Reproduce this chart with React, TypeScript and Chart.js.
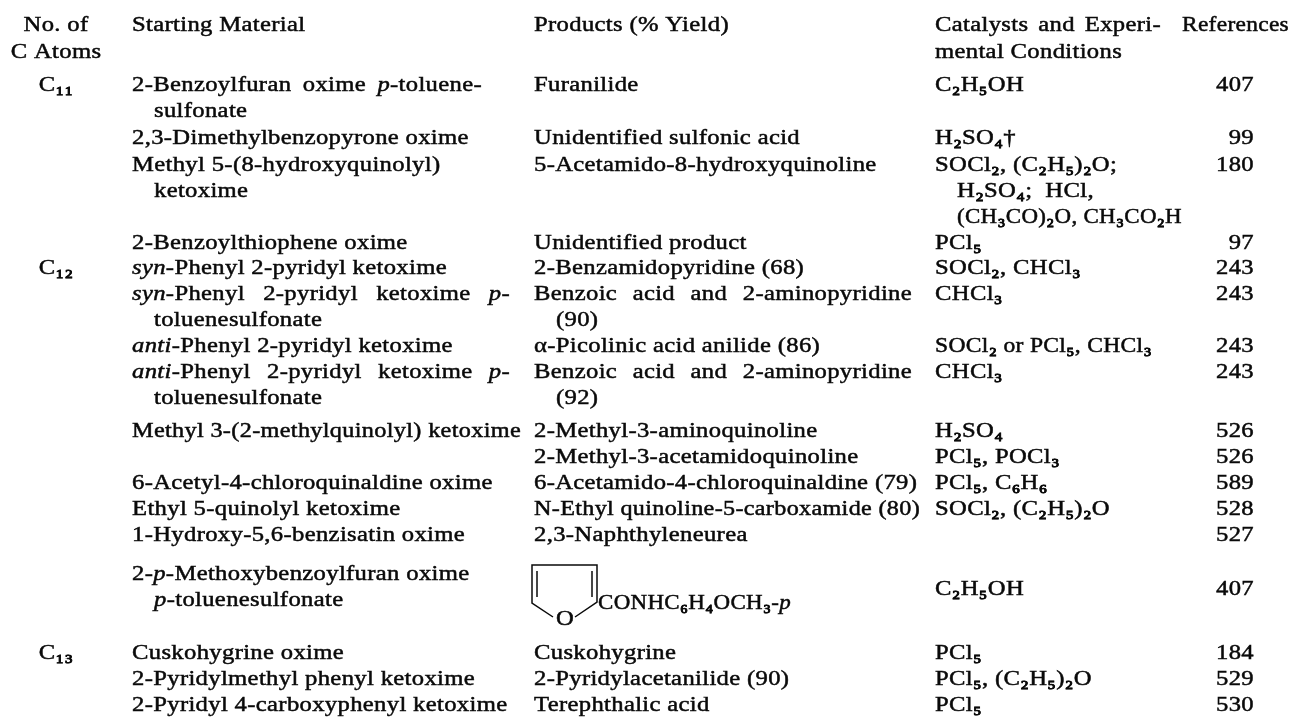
import React, { useEffect, useRef } from "react";
import { Chart, registerables } from "chart.js";

Chart.register(...registerables);

// Vertical position of every printed line, in the y axis' own units.
const lineY = [25, 52, 85, 111, 138, 165, 191, 217, 243, 268, 294, 320, 346, 372, 398, 431, 457, 483, 509, 535, 574, 589, 600, 653, 679, 705];

const carbonAtoms = ["No. of", "C Atoms", "C₁₁", "", "", "", "", "", "", "C₁₂", "", "", "", "", "", "", "", "", "", "", "", "", "", "C₁₃", "", ""];

const startingMaterial = [
  "Starting Material", "",
  "2-Benzoylfuran oxime *p*-toluene-", "  sulfonate",
  "2,3-Dimethylbenzopyrone oxime",
  "Methyl 5-(8-hydroxyquinolyl)", "  ketoxime", "",
  "2-Benzoylthiophene oxime",
  "*syn*-Phenyl 2-pyridyl ketoxime",
  "*syn*-Phenyl 2-pyridyl ketoxime *p*-", "  toluenesulfonate",
  "*anti*-Phenyl 2-pyridyl ketoxime",
  "*anti*-Phenyl 2-pyridyl ketoxime *p*-", "  toluenesulfonate",
  "Methyl 3-(2-methylquinolyl) ketoxime", "",
  "6-Acetyl-4-chloroquinaldine oxime",
  "Ethyl 5-quinolyl ketoxime",
  "1-Hydroxy-5,6-benzisatin oxime",
  "2-*p*-Methoxybenzoylfuran oxime", "", "  *p*-toluenesulfonate",
  "Cuskohygrine oxime",
  "2-Pyridylmethyl phenyl ketoxime",
  "2-Pyridyl 4-carboxyphenyl ketoxime",
];

const products = [
  "Products (% Yield)", "",
  "Furanilide", "",
  "Unidentified sulfonic acid",
  "5-Acetamido-8-hydroxyquinoline", "", "",
  "Unidentified product",
  "2-Benzamidopyridine (68)",
  "Benzoic acid and 2-aminopyridine", "  (90)",
  "α-Picolinic acid anilide (86)",
  "Benzoic acid and 2-aminopyridine", "  (92)",
  "2-Methyl-3-aminoquinoline",
  "2-Methyl-3-acetamidoquinoline",
  "6-Acetamido-4-chloroquinaldine (79)",
  "N-Ethyl quinoline-5-carboxamide (80)",
  "2,3-Naphthyleneurea",
  "", "", "",
  "Cuskohygrine",
  "2-Pyridylacetanilide (90)",
  "Terephthalic acid",
];

const catalysts = [
  "Catalysts and Experi-", "mental Conditions",
  "C₂H₅OH", "",
  "H₂SO₄†",
  "SOCl₂, (C₂H₅)₂O;", "  H₂SO₄;  HCl,", "  (CH₃CO)₂O, CH₃CO₂H",
  "PCl₅",
  "SOCl₂, CHCl₃",
  "CHCl₃", "",
  "SOCl₂ or PCl₅, CHCl₃",
  "CHCl₃", "",
  "H₂SO₄",
  "PCl₅, POCl₃",
  "PCl₅, C₆H₆",
  "SOCl₂, (C₂H₅)₂O",
  "",
  "", "C₂H₅OH", "",
  "PCl₅",
  "PCl₅, (C₂H₅)₂O",
  "PCl₅",
];

const references = [
  "References", "",
  "407", "", "99", "180", "", "", "97", "243", "243", "", "243", "243", "",
  "526", "526", "589", "528", "527", "", "407", "", "184", "529", "530",
];

// Printed widths of the lines that the typesetter stretched or squeezed.
const fittedWidths: Record<string, number> = {
  "2-Benzoylfuran oxime *p*-toluene-": 350,
  "*syn*-Phenyl 2-pyridyl ketoxime *p*-": 378,
  "*anti*-Phenyl 2-pyridyl ketoxime *p*-": 378,
  "Benzoic acid and 2-aminopyridine": 378,
  "Methyl 3-(2-methylquinolyl) ketoxime": 389,
  "N-Ethyl quinoline-5-carboxamide (80)": 386,
  "Catalysts and Experi-": 226,
  "SOCl₂ or PCl₅, CHCl₃": 217,
  "(CH₃CO)₂O, CH₃CO₂H": 225,
  "References": 107,
  "CONHC₆H₄OCH₃-*p*": 193,
};

// Furan ring outline (null breaks the pen): outer ring, then the two inner double-bond strokes.
const furanRingX = [553, 532, 532, 597, 597, 575, null, 537, 537, null, 592, 592];
const furanRingY = [617, 603, 565, 565, 602, 617, null, 571, 597, null, 571, 597];
const furanAtom = "O";
const furanAtomX = 565;
const furanAtomY = 619;
const furanLabel = "CONHC₆H₄OCH₃-*p*";
const furanLabelX = 598;
const furanLabelY = 603;

const FONT = '"Liberation Serif"';
const SIZE = 22;
const STRETCH = 1.12;
const INK = "#0a0a0a";
const columnX = [56, 132, 534, 935, 1254];
const headerRefX = 1182;
const INDENT = 22;
const SUBSCRIPTS = /[₀-₉]/;

function naturalWidth(ctx: CanvasRenderingContext2D, text: string) {
  return text.split("*").reduce((sum, part, i) => {
    ctx.font = `${i % 2 ? "italic " : ""}${SIZE}px ${FONT}`;
    return sum + ctx.measureText(part).width * STRETCH;
  }, 0);
}

function drawRich(ctx: CanvasRenderingContext2D, text: string, x: number, y: number) {
  let stretch = STRETCH;
  ctx.wordSpacing = "0px";
  const target = fittedWidths[text];
  if (target) {
    const natural = naturalWidth(ctx, text);
    const gaps = (text.match(/ /g) || []).length;
    if (gaps && target > natural) ctx.wordSpacing = `${(target - natural) / gaps / STRETCH}px`;
    else stretch = (STRETCH * target) / natural;
  }
  let cx = x;
  text.split("*").forEach((part, i) => {
    if (!part) return;
    ctx.font = `${i % 2 ? "italic " : ""}${SIZE}px ${FONT}`;
    ctx.save();
    ctx.translate(cx, y);
    ctx.scale(stretch, 1);
    ctx.fillText(part, 0, 0);
    ctx.lineWidth = 0.5;
    ctx.strokeText(part, 0, 0);
    // Chemical subscripts are printed in a heavier cut.
    ctx.lineWidth = 0.9;
    [...part].forEach((ch, k) => {
      if (SUBSCRIPTS.test(ch)) {
        const before = [...part].slice(0, k).join("");
        ctx.strokeText(ch, ctx.measureText(before).width, 0);
      }
    });
    ctx.restore();
    cx += ctx.measureText(part).width * stretch;
  });
  ctx.wordSpacing = "0px";
}

const tableText = {
  id: "tableText",
  afterDatasetsDraw(chart: any) {
    const ctx = chart.ctx as CanvasRenderingContext2D;
    const { x: sx, y: sy } = chart.scales;
    ctx.save();
    ctx.fillStyle = INK;
    ctx.strokeStyle = INK;
    ctx.textBaseline = "middle";
    ctx.letterSpacing = "0.3px";
    [carbonAtoms, startingMaterial, products, catalysts, references].forEach((col, c) => {
      const points = chart.getDatasetMeta(c).data;
      col.forEach((raw, i) => {
        if (!raw) return;
        const indent = raw.startsWith("  ") ? INDENT : 0;
        const text = raw.trim();
        const w = naturalWidth(ctx, text);
        let x = points[i].x + indent;
        if (c === 0) x -= w / 2;
        if (c === 4 && i > 0) x -= w;
        if (c === 4 && i === 0) x = sx.getPixelForValue(headerRefX);
        drawRich(ctx, text, x, points[i].y);
      });
    });
    drawRich(ctx, furanLabel, sx.getPixelForValue(furanLabelX), sy.getPixelForValue(furanLabelY));
    const ow = naturalWidth(ctx, furanAtom);
    drawRich(ctx, furanAtom, sx.getPixelForValue(furanAtomX) - ow / 2, sy.getPixelForValue(furanAtomY));
    ctx.restore();
  },
};

export default function App() {
  const ref = useRef<HTMLCanvasElement>(null);
  useEffect(() => {
    const col = (vals: string[], x: number) => ({
      data: vals.map((_, i) => ({ x, y: lineY[i] })),
      pointRadius: 0,
      showLine: false,
    });
    const chart = new Chart(ref.current!, {
      type: "scatter",
      data: {
        datasets: [
          col(carbonAtoms, columnX[0]),
          col(startingMaterial, columnX[1]),
          col(products, columnX[2]),
          col(catalysts, columnX[3]),
          col(references, columnX[4]),
          {
            data: furanRingX.map((x, i) => ({ x, y: furanRingY[i] })) as any,
            pointRadius: 0,
            showLine: true,
            spanGaps: false,
            borderColor: INK,
            borderWidth: 1.5,
          },
        ],
      },
      options: {
        animation: false,
        responsive: false,
        layout: { padding: 0 },
        plugins: { legend: { display: false }, tooltip: { enabled: false } },
        scales: {
          x: { type: "linear", min: 0, max: 1292, display: false },
          y: { type: "linear", min: 0, max: 718, reverse: true, display: false },
        },
      },
      plugins: [tableText],
    });
    return () => chart.destroy();
  }, []);
  return (
    <div style={{ position: "fixed", left: 0, top: 0, width: 1292, height: 718, background: "#fff" }}>
      <canvas ref={ref} width={1292} height={718} style={{ display: "block" }} />
    </div>
  );
}
